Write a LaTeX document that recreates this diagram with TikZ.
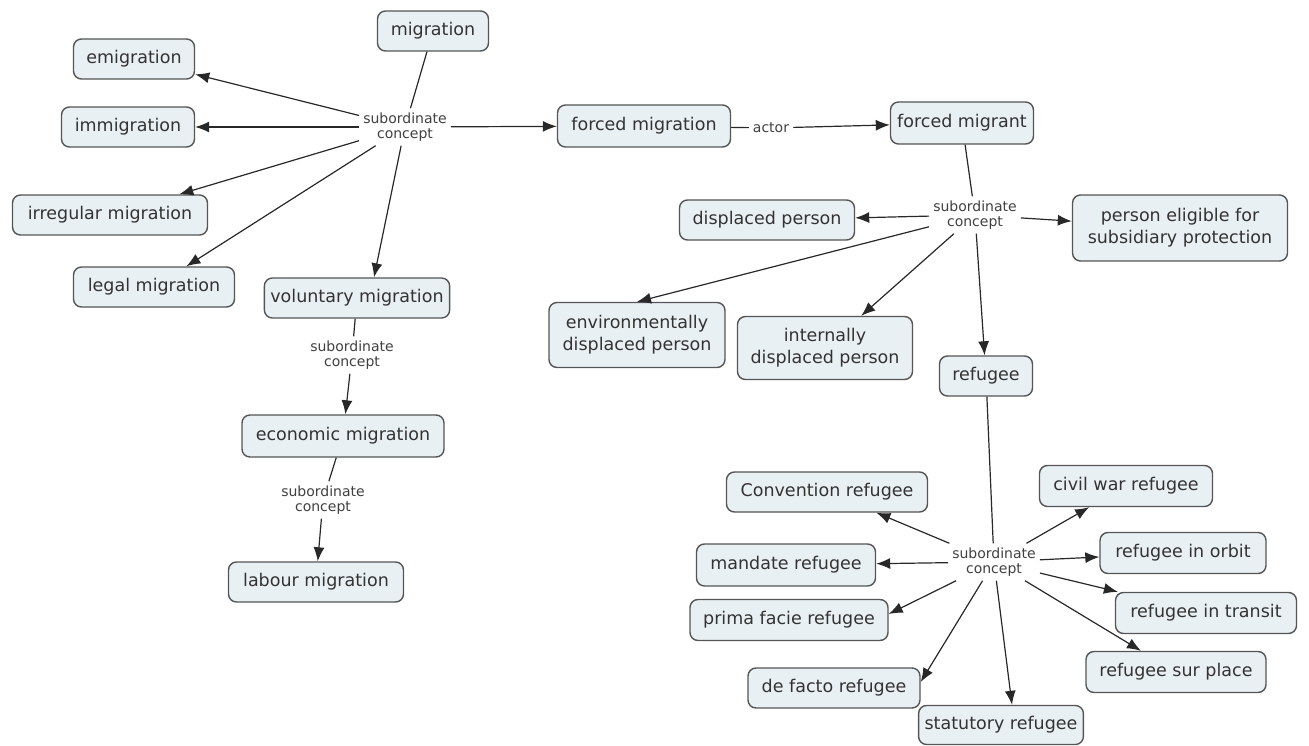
\documentclass[tikz,border=0pt]{standalone}
\usepackage{fontspec}
\setmainfont{DejaVu Sans}
\usetikzlibrary{arrows.meta}
\definecolor{conceptfill}{RGB}{233,240,244}
\definecolor{conceptdraw}{RGB}{85,85,85}
\definecolor{linkcol}{RGB}{40,40,40}
\begin{document}
\begin{tikzpicture}[x=1pt,y=-1pt,
  concept/.style={draw=conceptdraw, line width=1.4pt, fill=conceptfill,
    rounded corners=8pt, minimum height=40pt, inner xsep=6pt, inner ysep=3pt,
    font=\fontsize{17.5}{22}\selectfont, text=black!80, align=center},
  linklabel/.style={font=\fontsize{14}{15.5}\selectfont, align=center,
    inner sep=4pt, text=black!75},
  link/.style={draw=linkcol, line width=1.2pt},
  arrowlink/.style={link, -{Latex[length=14pt,width=11pt]}}
]
\useasboundingbox (0,0) rectangle (1309,746);

% concepts, left part
\node[concept, minimum width=111pt] (mig)  at (433,31)  {migration};
\node[concept, minimum width=121pt] (emi)  at (134,59)  {emigration};
\node[concept, minimum width=133pt] (imm)  at (128,127) {immigration};
\node[concept, minimum width=195pt] (irr)  at (110,215) {irregular migration};
\node[concept, minimum width=161pt] (leg)  at (154,287) {legal migration};
\node[concept, minimum width=173pt, minimum height=42pt] (fmig) at (644,126) {forced migration};
\node[concept, minimum width=143pt, minimum height=42pt] (fmt)  at (962,123) {forced migrant};
\node[concept, minimum width=175pt] (vol)  at (357,298) {voluntary migration};
\node[concept, minimum width=202pt, minimum height=42pt] (eco)  at (343,436) {economic migration};
\node[concept, minimum width=175pt] (lab)  at (316,582) {labour migration};

% concepts, forced migrant branch
\node[concept, minimum width=175pt] (dp)   at (767,220) {displaced person};
\node[concept, minimum width=215pt, minimum height=66pt] (pe)  at (1180,228) {person eligible for\\subsidiary protection};
\node[concept, minimum width=176pt, minimum height=65pt] (edp) at (637,335) {environmentally\\displaced person};
\node[concept, minimum width=175pt, minimum height=63pt] (idp) at (825,348) {internally\\displaced person};
\node[concept, minimum width=93pt]  (ref)  at (986,376) {refugee};

% concepts, refugee branch
\node[concept, minimum width=201pt] (conv) at (827,492)  {Convention refugee};
\node[concept, minimum width=173pt, minimum height=41pt] (civ)  at (1126,486) {civil war refugee};
\node[concept, minimum width=179pt, minimum height=42pt] (man)  at (786,565)  {mandate refugee};
\node[concept, minimum width=166pt, minimum height=41pt] (orb)  at (1183,553) {refugee in orbit};
\node[concept, minimum width=198pt, minimum height=41pt] (pf)   at (789,620)  {prima facie refugee};
\node[concept, minimum width=181pt, minimum height=41pt] (tra)  at (1206,613) {refugee in transit};
\node[concept, minimum width=172pt] (dft)  at (834,688)  {de facto refugee};
\node[concept, minimum width=180pt, minimum height=41pt] (sur)  at (1176,672) {refugee sur place};
\node[concept, minimum width=154pt, minimum height=39pt] (sta)  at (1001,725) {statutory refugee};

% linking phrases
\node[linklabel] (l1)  at (405,127) {subordinate\\concept};
\node[linklabel] (act) at (771,128) {actor};
\node[linklabel] (l2)  at (352,355) {subordinate\\concept};
\node[linklabel] (l3)  at (323,500) {subordinate\\concept};
\node[linklabel] (l4)  at (975,215) {subordinate\\concept};
\node[linklabel] (l5)  at (994,562) {subordinate\\concept};

% migration
\draw[link] (mig) -- (l1);
\draw[arrowlink] (l1) -- (emi);
\draw[arrowlink] (l1) -- (imm);
\draw[arrowlink] (l1) -- (irr);
\draw[arrowlink] (l1) -- (leg);
\draw[arrowlink] (l1) -- ([xshift=17pt]vol.north);
\draw[arrowlink] (l1) -- (fmig);

% forced migration
\draw[link] (fmig) -- (act);
\draw[arrowlink] (act) -- (fmt);

% voluntary and economic migration
\draw[link] (vol) -- (l2);
\draw[arrowlink] (l2) -- (eco);
\draw[link] (eco) -- (l3);
\draw[arrowlink] (l3) -- (lab);

% forced migrant
\draw[link] (fmt) -- (l4);
\draw[arrowlink] (l4) -- (dp);
\draw[arrowlink] (l4) -- (pe);
\draw[arrowlink] (l4) -- (edp.north);
\draw[arrowlink] (l4) -- (idp);
\draw[arrowlink] (l4) -- (ref);

% refugee
\draw[link] (ref) -- (l5);
\draw[arrowlink] (l5) -- (conv);
\draw[arrowlink] (l5) -- (civ);
\draw[arrowlink] (l5) -- (man);
\draw[arrowlink] (l5) -- (orb);
\draw[arrowlink] (l5) -- ([yshift=6pt]pf.east);
\draw[arrowlink] (l5) -- (tra);
\draw[arrowlink] (l5) -- ([yshift=6pt]dft.east);
\draw[arrowlink] (l5) -- ([xshift=11pt]sta.north);
\draw[arrowlink] (l5) -- (sur);
\end{tikzpicture}
\end{document}
